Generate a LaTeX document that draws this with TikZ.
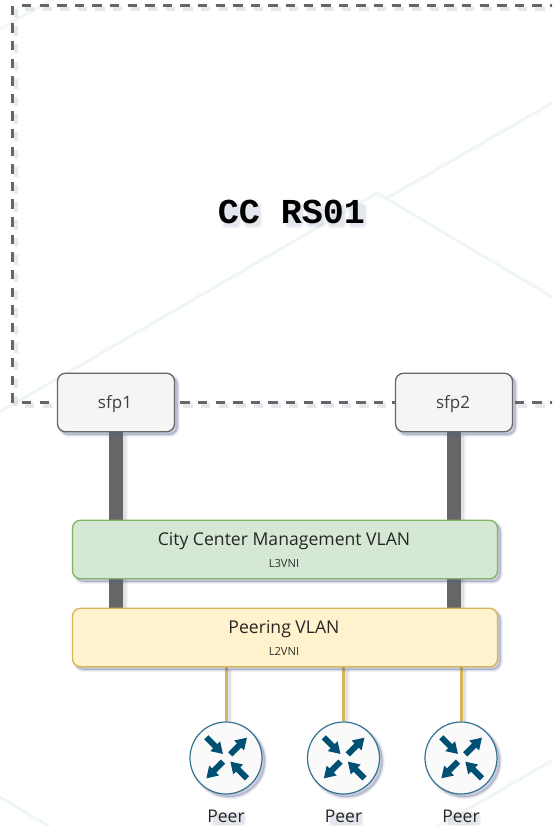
\documentclass[tikz,border=0pt]{standalone}
\usepackage{fontspec}
\setmainfont{Open Sans}
\newfontfamily\monob{Liberation Mono}
\usetikzlibrary{backgrounds}
\definecolor{shblue}{HTML}{56628F}
\definecolor{hexline}{HTML}{EFF7F5}
\definecolor{grayline}{HTML}{666666}
\definecolor{iconblue}{HTML}{005073}
\definecolor{goldline}{HTML}{D6B656}
\definecolor{greenline}{HTML}{82B366}
\definecolor{greenfill}{HTML}{D5E8D4}
\definecolor{yellowfill}{HTML}{FFF2CC}
\tikzset{
  x=1pt,y=-1pt,
  softsh/.style={
    preaction={draw=shblue,fill=shblue,opacity=.07,line width=#1+3.5pt,transform canvas={shift={(3pt,-3pt)}}},
    preaction={draw=shblue,fill=shblue,opacity=.10,line width=#1+1.5pt,transform canvas={shift={(3pt,-3pt)}}},
    preaction={draw=shblue,fill=shblue,opacity=.13,line width=#1,transform canvas={shift={(3pt,-3pt)}}}},
  softlinesh/.style={
    preaction={draw=shblue,opacity=.07,line width=#1+3pt,transform canvas={shift={(3pt,-3pt)}}},
    preaction={draw=shblue,opacity=.12,line width=#1,transform canvas={shift={(3pt,-3pt)}}}},
  framedash/.style={draw=grayline,line width=3pt,dash pattern=on 9.4pt off 8.2pt},
  frameshade/.style={draw=shblue,opacity=.14,line width=4.5pt,dash pattern=on 9.4pt off 8.2pt,transform canvas={shift={(3pt,-3pt)}}},
  portbox/.style={draw=grayline,fill=black!4,line width=1.3pt,rounded corners=8pt,minimum width=117pt,minimum height=58.5pt,inner sep=0pt,softsh=1.3pt},
  porttext/.style={text=black!75,font=\fontsize{17}{18}\selectfont,inner sep=0pt},
  vlanbox/.style={line width=1.3pt,rounded corners=8pt,minimum width=425pt,minimum height=58.5pt,inner sep=0pt,softsh=1.3pt},
  vlantitle/.style={font=\fontsize{17.6}{20}\selectfont,text=black!85,inner sep=0pt},
  vlansub/.style={font=\fontsize{11.2}{12}\selectfont,text=black!80,inner sep=0pt},
  peernode/.style={circle,draw=iconblue!80,fill=black!2,line width=1.2pt,minimum size=72pt,inner sep=0pt,softsh=1.2pt},
  peerlabel/.style={font=\fontsize{17.5}{18}\selectfont,text=black!85,inner sep=0pt},
  trunk/.style={draw=grayline,line width=14pt,softlinesh=14pt},
  peerlink/.style={draw=goldline,line width=3pt,softlinesh=3pt},
  blob/.style={fill=shblue,rounded corners=3pt},
}
\newcommand{\smudge}[4]{% cx cy halfwidth halfheight
  \fill[blob,opacity=.06] (#1-#3-1.5,#2-#4-1.5) rectangle (#1+#3+1.5,#2+#4+1.5);
  \fill[blob,opacity=.10] (#1-#3,#2-#4) rectangle (#1+#3,#2+#4);}
\newcommand{\iconarrow}[3]{\fill[iconblue,shift={(#1,#2)},rotate=#3]
  (0,-3) -- (12.5,-3) -- (12.5,-7) -- (23.5,0) -- (12.5,7) -- (12.5,3) -- (0,3) -- cycle;}
\newcommand{\routericon}[1]{\begin{scope}[shift={(#1)}]
  \iconarrow{-19.7}{-20.7}{-45}
  \iconarrow{4.3}{-3.7}{45}
  \iconarrow{-3}{3.7}{225}
  \iconarrow{21}{20.3}{135}
\end{scope}}
\begin{document}
\begin{tikzpicture}
\useasboundingbox (0,0) rectangle (552,826);
\node[font=\monob\fontsize{35}{38}\selectfont\bfseries,inner sep=0pt] (title) at (291.5,212) {CC RS01};
\node[portbox] (sfpa) at (116,402.5) {};
\node[portbox] (sfpb) at (454,402.5) {};
\node[porttext] (sfpat) at (115,404.5) {sfp1};
\node[porttext] (sfpbt) at (453,404.5) {sfp2};
\node[vlanbox,draw=greenline,fill=greenfill] (mgmt) at (285,549.5) {};
\node[vlantitle] (mgmtt) at (284,541) {City Center Management VLAN};
\node[vlansub] (mgmts) at (284,563) {L3VNI};
\node[vlanbox,draw=goldline,fill=yellowfill] (peering) at (285,637.5) {};
\node[vlantitle] (peert) at (284,629.5) {Peering VLAN};
\node[vlansub] (peers) at (284,651) {L2VNI};
\node[peernode] (pa) at (226,758) {};
\node[peernode] (pb) at (343.5,758) {};
\node[peernode] (pc) at (461,758) {};
\routericon{pa}
\routericon{pb}
\routericon{pc}
\node[peerlabel] (la) at (226,816.5) {Peer};
\node[peerlabel] (lb) at (343.5,816.5) {Peer};
\node[peerlabel] (lc) at (461,816.5) {Peer};
\begin{scope}[on background layer]
\fill[white] (0,0) rectangle (552,826);
\begin{scope}
\clip (0,0) rectangle (552,826);
\draw[hexline,line width=3pt] (-1,412.5) -- (377,193) -- (553,297.5);
\draw[hexline,line width=3pt] (387,198) -- (553,102.5);
\draw[hexline,line width=3pt] (-1,29.5) -- (53,-1);
\draw[hexline,line width=3pt] (-1,796.5) -- (50,827);
\draw[hexline,line width=3pt] (553,760) -- (437,827);
\coordinate (fc1) at (12.8,402.5);
\coordinate (fc2) at (12.8,6);
\coordinate (ft) at (22,6);
\coordinate (fte) at (560,6);
\coordinate (fb) at (22,402.5);
\coordinate (fbe) at (560,402.5);
\draw[frameshade] (fc1) -- (fc2);
\draw[frameshade] (ft) -- (fte);
\draw[frameshade] (fb) -- (fbe);
\draw[framedash] (fc1) -- (fc2);
\draw[framedash] (ft) -- (fte);
\draw[framedash] (fb) -- (fbe);
\end{scope}
% soft shade under the unboxed title and labels
\foreach \cx in {231.5,252.5,294.5,315.5,336.5,357.5} {\smudge{\cx}{215.5}{8}{11}}
\smudge{228.5}{819}{16}{6}
\smudge{346}{819}{16}{6}
\smudge{463.5}{819}{16}{6}
\draw[trunk] (sfpa.south) -- (sfpa.south |- peering.north);
\draw[trunk] (sfpb.south) -- (sfpb.south |- peering.north);
\draw[peerlink] (pa.north |- peering.south) -- (pa.north);
\draw[peerlink] (pb.north |- peering.south) -- (pb.north);
\draw[peerlink] (pc.north |- peering.south) -- (pc.north);
\end{scope}
\end{tikzpicture}
\end{document}
